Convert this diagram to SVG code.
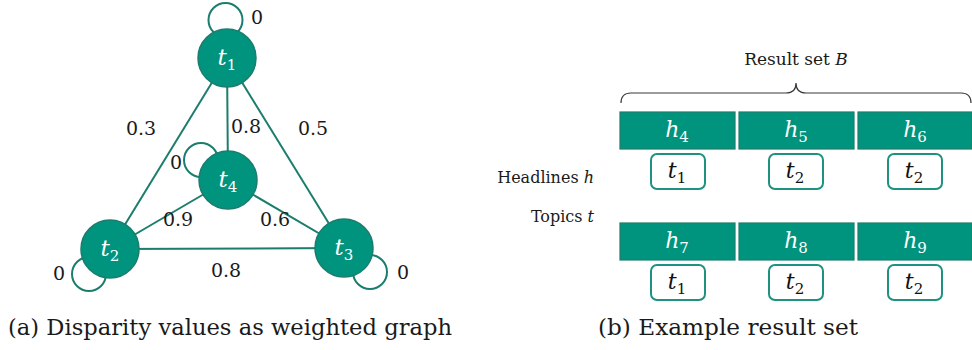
<svg xmlns="http://www.w3.org/2000/svg" width="972" height="350" viewBox="0 0 972 350">
  <style>
    text { font-family: "DejaVu Serif", "Liberation Serif", serif; }
    .edge { stroke: #1b7d6d; stroke-width: 2; fill: none; }
    .loop { stroke: #1b7d6d; stroke-width: 2; fill: none; }
    .node { fill: #00937e; stroke: #1b7d6d; stroke-width: 1.5; }
    .nlabel { font-style: italic; font-size: 23px; fill: #ffffff; text-anchor: middle; }
    .sub { font-style: normal; font-size: 15px; }
    .w { font-size: 19px; fill: #1a1a1a; text-anchor: middle; }
    .cap { font-size: 23px; fill: #1a1a1a; }
    .lbl { font-size: 17px; fill: #1a1a1a; }
    .side { font-size: 16px; fill: #1a1a1a; text-anchor: end; }
    .hbox { fill: #00937e; stroke: #1b7d6d; stroke-width: 1.2; }
    .tbox { fill: #ffffff; stroke: #1e9180; stroke-width: 2; }
    .hl { font-style: italic; font-size: 22px; fill: #ffffff; text-anchor: middle; }
    .tl { font-style: italic; font-size: 22px; fill: #111111; text-anchor: middle; }
  </style>

  <!-- (a) weighted graph -->
  <g id="connectors">
    <line class="edge" x1="227" y1="58" x2="110" y2="249"/>
    <line class="edge" x1="227" y1="58" x2="344" y2="248"/>
    <line class="edge" x1="227" y1="58" x2="228" y2="180"/>
    <line class="edge" x1="110" y1="249" x2="228" y2="180"/>
    <line class="edge" x1="228" y1="180" x2="344" y2="248"/>
    <line class="edge" x1="110" y1="249" x2="344" y2="248"/>
    <circle class="loop" cx="225.5" cy="20" r="17"/>
    <circle class="loop" cx="201" cy="160" r="17"/>
    <circle class="loop" cx="89" cy="274" r="17"/>
    <circle class="loop" cx="370" cy="272" r="17"/>
    <text class="w" x="141" y="135">0.3</text>
    <text class="w" x="246" y="133">0.8</text>
    <text class="w" x="313" y="135">0.5</text>
    <text class="w" x="178" y="226">0.9</text>
    <text class="w" x="275" y="226">0.6</text>
    <text class="w" x="226" y="277">0.8</text>
    <text class="w" x="257" y="24">0</text>
    <text class="w" x="176" y="169">0</text>
    <text class="w" x="59" y="280">0</text>
    <text class="w" x="403" y="279">0</text>
  </g>

  <g id="t1">
    <circle class="node" cx="227" cy="58" r="29"/>
    <text class="nlabel" x="227" y="65">t<tspan class="sub" dy="5">1</tspan></text>
  </g>
  <g id="t4">
    <circle class="node" cx="228" cy="180" r="29"/>
    <text class="nlabel" x="228" y="187">t<tspan class="sub" dy="5">4</tspan></text>
  </g>
  <g id="t2">
    <circle class="node" cx="110" cy="249" r="29"/>
    <text class="nlabel" x="110" y="256">t<tspan class="sub" dy="5">2</tspan></text>
  </g>
  <g id="t3">
    <circle class="node" cx="344" cy="248" r="29"/>
    <text class="nlabel" x="344" y="255">t<tspan class="sub" dy="5">3</tspan></text>
  </g>

  <text class="cap" x="8" y="335" textLength="444" lengthAdjust="spacingAndGlyphs">(a) Disparity values as weighted graph</text>

  <!-- (b) example result set -->
  <g id="brace">
    <text class="lbl" x="796" y="65" text-anchor="middle">Result set <tspan font-style="italic">B</tspan></text>
    <path d="M621,103 Q621,93 631,93 L786,93 Q796,93 796,83 Q796,93 806,93 L961,93 Q971,93 971,103" fill="none" stroke="#3a3a3a" stroke-width="1.2"/>
  </g>

  <text class="side" x="594" y="183">Headlines <tspan font-style="italic">h</tspan></text>
  <text class="side" x="594" y="222">Topics <tspan font-style="italic">t</tspan></text>

  <g id="h4">
    <rect class="hbox" x="620" y="112" width="115" height="37"/>
    <text class="hl" x="677" y="137">h<tspan class="sub" dy="5">4</tspan></text>
  </g>
  <g id="h5">
    <rect class="hbox" x="739" y="112" width="115" height="37"/>
    <text class="hl" x="796" y="137">h<tspan class="sub" dy="5">5</tspan></text>
  </g>
  <g id="h6">
    <rect class="hbox" x="858" y="112" width="114" height="37"/>
    <text class="hl" x="915" y="137">h<tspan class="sub" dy="5">6</tspan></text>
  </g>
  <g id="t1-h4">
    <rect class="tbox" x="651" y="154" width="54" height="35" rx="6"/>
    <text class="tl" x="677" y="178">t<tspan class="sub" dy="5">1</tspan></text>
  </g>
  <g id="t2-h5">
    <rect class="tbox" x="769" y="154" width="54" height="35" rx="6"/>
    <text class="tl" x="795" y="178">t<tspan class="sub" dy="5">2</tspan></text>
  </g>
  <g id="t2-h6">
    <rect class="tbox" x="888" y="154" width="54" height="35" rx="6"/>
    <text class="tl" x="914" y="178">t<tspan class="sub" dy="5">2</tspan></text>
  </g>

  <g id="h7">
    <rect class="hbox" x="620" y="223" width="115" height="37"/>
    <text class="hl" x="677" y="248">h<tspan class="sub" dy="5">7</tspan></text>
  </g>
  <g id="h8">
    <rect class="hbox" x="739" y="223" width="115" height="37"/>
    <text class="hl" x="796" y="248">h<tspan class="sub" dy="5">8</tspan></text>
  </g>
  <g id="h9">
    <rect class="hbox" x="858" y="223" width="114" height="37"/>
    <text class="hl" x="915" y="248">h<tspan class="sub" dy="5">9</tspan></text>
  </g>
  <g id="t1-h7">
    <rect class="tbox" x="651" y="265" width="54" height="35" rx="6"/>
    <text class="tl" x="677" y="289">t<tspan class="sub" dy="5">1</tspan></text>
  </g>
  <g id="t2-h8">
    <rect class="tbox" x="769" y="265" width="54" height="35" rx="6"/>
    <text class="tl" x="795" y="289">t<tspan class="sub" dy="5">2</tspan></text>
  </g>
  <g id="t2-h9">
    <rect class="tbox" x="888" y="265" width="54" height="35" rx="6"/>
    <text class="tl" x="914" y="289">t<tspan class="sub" dy="5">2</tspan></text>
  </g>

  <text class="cap" x="598" y="335" textLength="260" lengthAdjust="spacingAndGlyphs">(b) Example result set</text>
</svg>
